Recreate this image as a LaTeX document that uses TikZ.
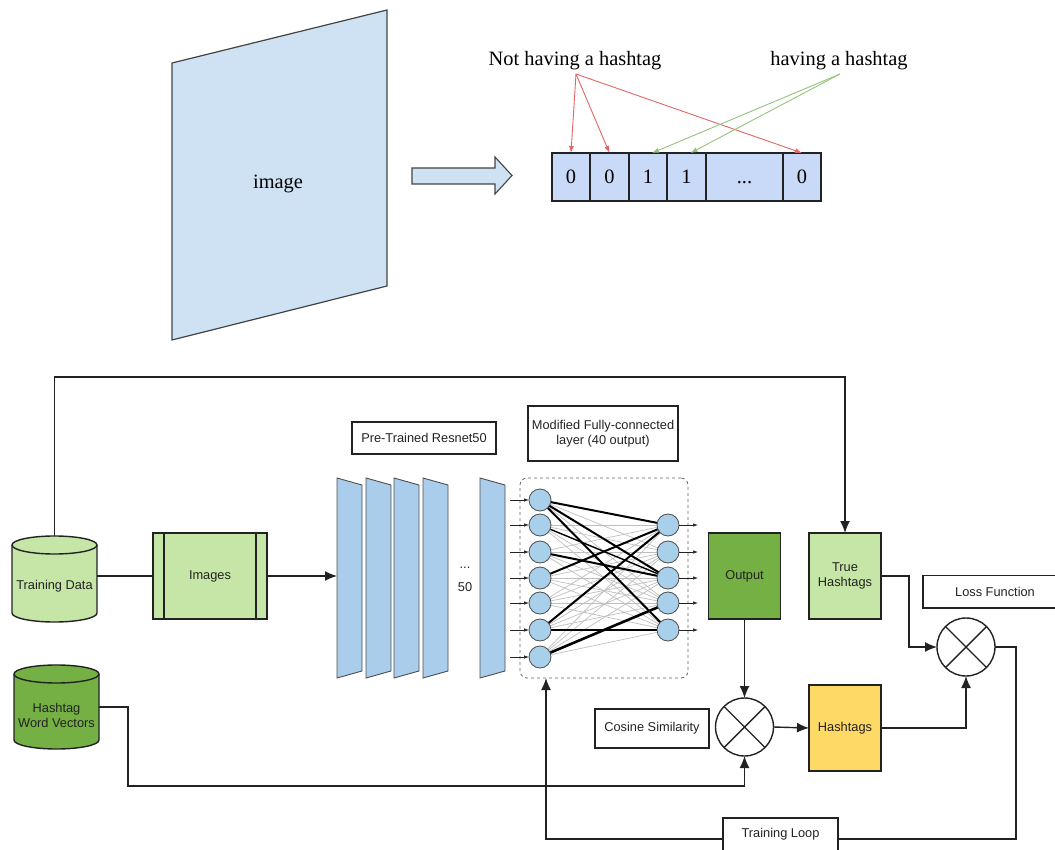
\documentclass[tikz,border=0pt]{standalone}
\usepackage{fontspec}
\setmainfont{Liberation Serif}
\setsansfont{Liberation Sans}
\usetikzlibrary{arrows.meta}
\definecolor{imgblue}{HTML}{CFE2F3}
\definecolor{cellblue}{HTML}{C9DAF8}
\definecolor{slabblue}{HTML}{A9CDEB}
\definecolor{neuronblue}{HTML}{A9D0EA}
\definecolor{lgreen}{HTML}{C6E6A8}
\definecolor{dgreen}{HTML}{74B043}
\definecolor{hyellow}{HTML}{FFD966}
\definecolor{redarrow}{HTML}{E06666}
\definecolor{greenarrow}{HTML}{93C47D}
\definecolor{ink}{HTML}{222222}
\tikzset{
  serif/.style={font=\rmfamily\fontsize{20.4}{22}\selectfont},
  lbl/.style={font=\sffamily\fontsize{12.8}{15}\selectfont, align=center, text=ink},
  box/.style={draw=ink, line width=1.4pt, lbl, inner sep=0pt, outer sep=0pt},
  cell/.style={draw=ink, line width=1.2pt, fill=cellblue, serif, minimum height=48pt, inner sep=0pt, outer sep=0pt},
  conn/.style={draw=ink, line width=1.4pt, -{Latex[length=12pt,width=10pt]}},
  plainline/.style={draw=ink, line width=1.4pt},
  thinarrow/.style={line width=0.9pt, -{Latex[length=7pt,width=5pt]}},
  nnin/.style={draw=ink, line width=0.7pt, -{Latex[length=5pt,width=3.5pt]}},
  neuron/.style={circle, draw=ink!80, line width=0.8pt, fill=neuronblue, minimum size=22pt, inner sep=0pt, outer sep=0pt},
  slab/.style={draw=ink!80, line width=0.9pt, fill=slabblue},
  xcircle/.style={circle, draw=ink, line width=1.4pt, minimum size=58pt, inner sep=0pt, outer sep=0pt},
  weak/.style={draw=gray!50, line width=0.7pt},
  strong/.style={draw=black, line width=2pt},
}
\begin{document}
\begin{tikzpicture}[x=1pt,y=-1pt]
\useasboundingbox (0,0) rectangle (1055,850);

% ---------- top part ----------
\filldraw[fill=imgblue, draw=ink!85, line width=1.2pt] (172,63) -- (387,10) -- (387,286) -- (172,340) -- cycle;
\node[serif] (imgtxt) at (278,184) {image};

\filldraw[fill=imgblue, draw=ink!85, line width=1.1pt]
  (412,168) -- (495,168) -- (495,157) -- (512,175.5) -- (495,194) -- (495,184) -- (412,184) -- cycle;

\node[cell, minimum width=38pt] (c1) at (571,177) {0};
\node[cell, minimum width=39pt] (c2) at (609.5,177) {0};
\node[cell, minimum width=38pt] (c3) at (648,177) {1};
\node[cell, minimum width=39pt] (c4) at (686.5,177) {1};
\node[cell, minimum width=77pt] (c5) at (744.5,177) {\vphantom{0}...};
\node[cell, minimum width=38pt] (c6) at (802,177) {0};

\node[serif] (nh) at (575,61) {Not having a hashtag};
\node[serif] (hh) at (839,61) {having a hashtag};
\coordinate (nhs) at (576,74);
\coordinate (hhs) at (840,74);
\draw[thinarrow, redarrow] (nhs) -- (c1.north);
\draw[thinarrow, redarrow] (nhs) -- (c2.north);
\draw[thinarrow, redarrow] (nhs) -- (c6.north);
\draw[thinarrow, greenarrow] (hhs) -- ([xshift=4pt]c3.north);
\draw[thinarrow, greenarrow] (hhs) -- ([xshift=4pt]c4.north);

% ---------- bottom part ----------
% Training Data cylinder
\filldraw[fill=lgreen, draw=ink, line width=1.4pt]
  (12,545) -- (12,613) arc[start angle=180, end angle=360, x radius=42.5pt, y radius=9pt]
  -- (97,545) arc[start angle=0, end angle=180, x radius=42.5pt, y radius=9pt] -- cycle;
\draw[ink, line width=1.4pt] (12,545) arc[start angle=180, end angle=360, x radius=42.5pt, y radius=9pt];
\node[minimum width=85pt, minimum height=86pt, inner sep=0pt, outer sep=0pt] (td) at (54.5,579) {};
\node[lbl] (tdtxt) at (54.5,586) {Training Data};

% Hashtag Word Vectors cylinder
\filldraw[fill=dgreen, draw=ink, line width=1.4pt]
  (14,674) -- (14,740) arc[start angle=180, end angle=360, x radius=42.5pt, y radius=9pt]
  -- (99,674) arc[start angle=0, end angle=180, x radius=42.5pt, y radius=9pt] -- cycle;
\draw[ink, line width=1.4pt] (14,674) arc[start angle=180, end angle=360, x radius=42.5pt, y radius=9pt];
\node[minimum width=85pt, minimum height=84pt, inner sep=0pt, outer sep=0pt] (hwv) at (56.5,707) {};
\node[lbl] (hwvtxt) at (56.5,715) {Hashtag\\Word Vectors};

% Images
\node[box, fill=lgreen, minimum width=114pt, minimum height=86pt] (imgs) at (210,576) {Images};
\draw[ink, line width=1.4pt] ([xshift=11pt]imgs.north west) -- ([xshift=11pt]imgs.south west);
\draw[ink, line width=1.4pt] ([xshift=-11pt]imgs.north east) -- ([xshift=-11pt]imgs.south east);

% ResNet slabs
\foreach \x in {337,366,394,423,480} {
  \filldraw[slab] (\x,478) -- (\x+25,485) -- (\x+25,671) -- (\x,678) -- cycle;
}
\coordinate (slab1) at (337,576);
\node[lbl] (dots) at (465,568) {...};
\node[lbl] (fifty) at (465,587) {50};

\node[box, minimum width=144pt, minimum height=32pt] (pre) at (424,438) {Pre-Trained Resnet50};
\node[box, minimum width=150pt, minimum height=55pt] (fc) at (603,433.5) {Modified Fully-connected\\layer (40 output)};

% Fully connected layer
\node[draw=ink!70, dashed, line width=0.8pt, rounded corners=7pt, minimum width=168pt, minimum height=200pt, inner sep=0pt, outer sep=0pt] (fcbox) at (604,578) {};
\foreach \i/\y in {1/500,2/525,3/552,4/578,5/603,6/630,7/657} { \coordinate (i\i) at (540,\y); }
\foreach \j/\y in {1/525,2/552,3/578,4/603,5/630} { \coordinate (o\j) at (668,\y); }
\foreach \i in {1,...,7} { \foreach \j in {1,...,5} { \draw[weak] (i\i) -- (o\j); } }
\foreach \a/\b in {1/1,1/3,1/5,3/3,4/1,6/1,6/5} { \draw[strong] (i\a) -- (o\b); }
\draw[strong, line width=1.4pt] (i2) -- (o3);
\draw[strong, line width=2.6pt] (i7) -- (o4);
\foreach \i in {1,...,7} {
  \node[neuron] (n\i) at (i\i) {};
  \coordinate (s\i) at ([xshift=-30pt]i\i);
  \draw[nnin] (s\i) -- (n\i.west);
}
\foreach \j in {1,...,5} {
  \node[neuron] (m\j) at (o\j) {};
  \coordinate (e\j) at ([xshift=30pt]o\j);
  \draw[nnin] (m\j.east) -- (e\j);
}

% right side boxes
\node[box, fill=dgreen, minimum width=72pt, minimum height=86pt] (out) at (744.5,576) {Output};
\node[box, fill=lgreen, minimum width=72pt, minimum height=86pt] (trueh) at (845,576) {True\\Hashtags};
\node[box, fill=hyellow, minimum width=72pt, minimum height=86pt] (hasht) at (845,728) {Hashtags};
\node[box, minimum width=114pt, minimum height=39pt] (cosbox) at (652,728.5) {Cosine Similarity};
\node[lbl] (losstxt) at (995,591.5) {Loss Function};
\draw[ink, line width=1.4pt] (1056,575.5) -- (923,575.5) -- (923,608) -- (1056,608);
\node[minimum width=115pt, minimum height=42pt, inner sep=0pt, outer sep=0pt] (loop) at (780.5,839) {};
\node[lbl] (looptxt) at (780.5,834) {Training Loop};
\draw[ink, line width=1.4pt] (723,852) -- (723,818) -- (838,818) -- (838,852);

\node[xcircle] (cosx) at (744.5,727) {};
\draw[ink, line width=1.4pt] (cosx.north west) -- (cosx.south east) (cosx.north east) -- (cosx.south west);
\node[xcircle] (lossx) at (966,647) {};
\draw[ink, line width=1.4pt] (lossx.north west) -- (lossx.south east) (lossx.north east) -- (lossx.south west);

% connectors
\coordinate (topc) at (54.5,377);
\draw[conn] (td.north) -- (topc) -| (trueh.north);
\draw[plainline] (td.east |- imgs.west) -- (imgs.west);
\draw[conn] (imgs.east) -- (slab1);
\coordinate (h1) at (128,786);
\draw[conn] (hwv.east) -| (h1) -| (cosx.south);
\draw[conn] (out.south) -- (cosx.north);
\draw[conn] (cosx.east) -- (hasht.west);
\draw[conn] (hasht.east) -| (lossx.south);
\coordinate (th1) at (909,576);
\draw[conn] (trueh.east) -- (th1) |- (lossx.west);
\coordinate (l1) at (1016,647);
\draw[plainline] (lossx.east) -- (l1) |- (loop.east);
\coordinate (fcin) at (546,678);
\draw[conn] (loop.west) -| (fcin);
\end{tikzpicture}
\end{document}
